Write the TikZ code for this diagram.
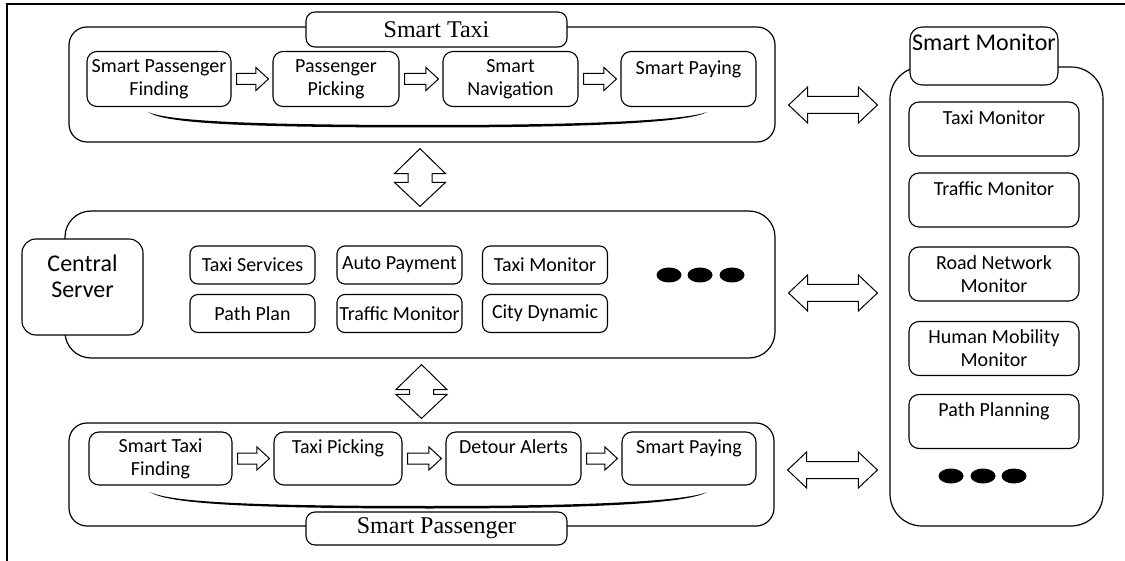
\documentclass[tikz,border=0pt]{standalone}
\usepackage{fontspec}
\setmainfont{Carlito}
\newfontfamily\tagfont{Liberation Serif}
\usetikzlibrary{calc}

% block arrow pointing right, from node #1 to node #2
\newcommand{\rblk}[2]{%
  \draw[blk] ($(#1.east)+(5,-5.5)$) -- ($(#2.west)+(-16.5,-5.5)$)
    -- ($(#2.west)+(-16.5,-11.5)$) -- ($(#2.west)+(-4,0)$)
    -- ($(#2.west)+(-16.5,11.5)$) -- ($(#2.west)+(-16.5,5.5)$)
    -- ($(#1.east)+(5,5.5)$) -- cycle;}
% left-right double block arrow, #3 = vertical offset from #1.east
\newcommand{\hdbl}[3]{%
  \coordinate (hl) at ($(#1.east)+(13,#3)$);
  \coordinate (hr) at ($(#2.west |- hl)+(-12,0)$);
  \draw[blk] (hl) -- ++(19,-18) -- ++(0,9.5) -- ($(hr)+(-19,-8.5)$) -- ++(0,-9.5)
    -- (hr) -- ++(-19,18) -- ++(0,-9.5) -- ($(hl)+(19,8.5)$) -- ++(0,9.5) -- cycle;}
% up-down double block arrow between #1 (above) and #2 (below)
\newcommand{\vdbl}[2]{%
  \coordinate (vt) at ($(#2.north |- #1.south)+(0,6)$);
  \coordinate (vb) at ($(#2.north)+(0,-4)$);
  \draw[blk] (vt) -- ++(25.5,25) -- ++(-13.5,0) -- ($(vb)+(12,-24)$) -- ++(13.5,0)
    -- (vb) -- ++(-25.5,-24) -- ++(13.5,0) -- ($(vt)+(-12,25)$) -- ++(-13.5,0) -- cycle;}

\begin{document}
\begin{tikzpicture}[x=1pt,y=-1pt,
  outerbox/.style={draw,line width=1.2pt,rounded corners=18pt,inner sep=0pt},
  tagbox/.style={draw,fill=white,line width=1.1pt,rounded corners=9pt,inner sep=2pt,
    font=\tagfont\fontsize{24}{28}\selectfont},
  unitbox/.style={draw,fill=white,line width=1.1pt,rounded corners=10pt,inner sep=1pt,
    align=center,font=\fontsize{20}{23}\selectfont},
  srvbox/.style={unitbox,rounded corners=8pt,minimum width=125pt,minimum height=38pt},
  blk/.style={draw,fill=white,line width=1pt,line join=miter}]
\path[use as bounding box] (0,0) rectangle (1125,561);
\draw[line width=1.2pt] (7,561) -- (7,4) -- (1125,4);

% containers
\node[outerbox,minimum width=706pt,minimum height=115pt] (st) at (422,84.5) {};
\node[outerbox,rounded corners=26pt,minimum width=710pt,minimum height=147pt] (cs) at (420,284.5) {};
\node[outerbox,minimum width=705pt,minimum height=103pt] (sp) at (421.5,474.5) {};
\node[outerbox,rounded corners=32pt,minimum width=213pt,minimum height=459pt] (sm) at (996.5,296.5) {};

% titles
\node[tagbox,minimum width=261pt,minimum height=35pt] (sttag) at (436.5,29.5) {Smart Taxi};
\node[tagbox,minimum width=261pt,minimum height=33pt] (sptag) at (436.5,528.5) {Smart Passenger};
\node[tagbox,font=\fontsize{24}{28}\selectfont,align=center,rounded corners=12pt,
  minimum width=148pt,minimum height=58pt] (smtag) at (984,56) {Smart Monitor\\ \mbox{}};
\node[unitbox,font=\fontsize{24}{26}\selectfont,rounded corners=14pt,
  minimum width=121pt,minimum height=96pt] (srv) at (82.5,287) {Central\\Server\\[-4pt]\mbox{}};

% smart taxi
\node[unitbox,minimum width=144pt,minimum height=55pt] (stfind) at (159,79) {Smart Passenger\\Finding};
\node[unitbox,minimum width=126pt,minimum height=55pt] (stpick) at (336,79) {Passenger\\Picking};
\node[unitbox,minimum width=135pt,minimum height=55pt] (stnav) at (510.5,79) {Smart\\Navigation};
\node[unitbox,minimum width=135pt,minimum height=55pt] (stpay) at (688.5,79) {Smart Paying\\ \mbox{}};
\rblk{stfind}{stpick}
\rblk{stpick}{stnav}
\rblk{stnav}{stpay}
\fill (148,112) .. controls (165,124) and (250,127.5) .. (430,127.5)
  .. controls (600,127.5) and (690,122) .. (707,112)
  .. controls (688,119.5) and (600,125) .. (430,125)
  .. controls (250,125) and (168,121) .. (148,112) -- cycle;

% central server
\node[srvbox] (svc) at (252.5,265) {Taxi Services};
\node[srvbox] (pay) at (399.5,265) {Auto Payment};
\node[srvbox] (tmon) at (545,265) {Taxi Monitor};
\node[srvbox] (plan) at (252.5,313.5) {Path Plan};
\node[srvbox] (fmon) at (399.5,313.5) {Traffic Monitor};
\node[srvbox] (city) at (545,313.5) {City Dynamic};
\fill (669,275) ellipse (12.5pt and 7.5pt);
\fill (700,275) ellipse (12.5pt and 7.5pt);
\fill (732,275) ellipse (12.5pt and 7.5pt);

% smart passenger
\node[unitbox,minimum width=143pt,minimum height=53pt] (spfind) at (160.5,458.5) {Smart Taxi\\Finding};
\node[unitbox,minimum width=128pt,minimum height=53pt] (sppick) at (338,458.5) {Taxi Picking\\ \mbox{}};
\node[unitbox,minimum width=135pt,minimum height=53pt] (spalert) at (513.5,458.5) {Detour Alerts\\ \mbox{}};
\node[unitbox,minimum width=134pt,minimum height=53pt] (sppay) at (689,458.5) {Smart Paying\\ \mbox{}};
\rblk{spfind}{sppick}
\rblk{sppick}{spalert}
\rblk{spalert}{sppay}
\fill (150,492) .. controls (167,504) and (250,508.5) .. (430,508.5)
  .. controls (600,508.5) and (690,503) .. (707,492)
  .. controls (688,500.5) and (600,506) .. (430,506)
  .. controls (250,506) and (170,502) .. (150,492) -- cycle;

% smart monitor
\node[unitbox,minimum width=170pt,minimum height=54pt] (smtaxi) at (994,129) {Taxi Monitor\\ \mbox{}};
\node[unitbox,minimum width=170pt,minimum height=54pt] (smtraf) at (994,200) {Traffic Monitor\\ \mbox{}};
\node[unitbox,minimum width=170pt,minimum height=54pt] (smroad) at (994,274) {Road Network\\Monitor};
\node[unitbox,minimum width=170pt,minimum height=54pt] (smhum) at (994,348.5) {Human Mobility\\Monitor};
\node[unitbox,minimum width=170pt,minimum height=54pt] (smpath) at (994,421.5) {Path Planning\\ \mbox{}};
\fill (951,476) ellipse (12.5pt and 7.5pt);
\fill (983,476) ellipse (12.5pt and 7.5pt);
\fill (1014,476) ellipse (12.5pt and 7.5pt);

% links between parts
\vdbl{st}{cs}
\vdbl{cs}{sp}
\hdbl{st}{sm}{20.5}
\hdbl{cs}{sm}{8.5}
\hdbl{sp}{sm}{-4.5}
\end{tikzpicture}
\end{document}
